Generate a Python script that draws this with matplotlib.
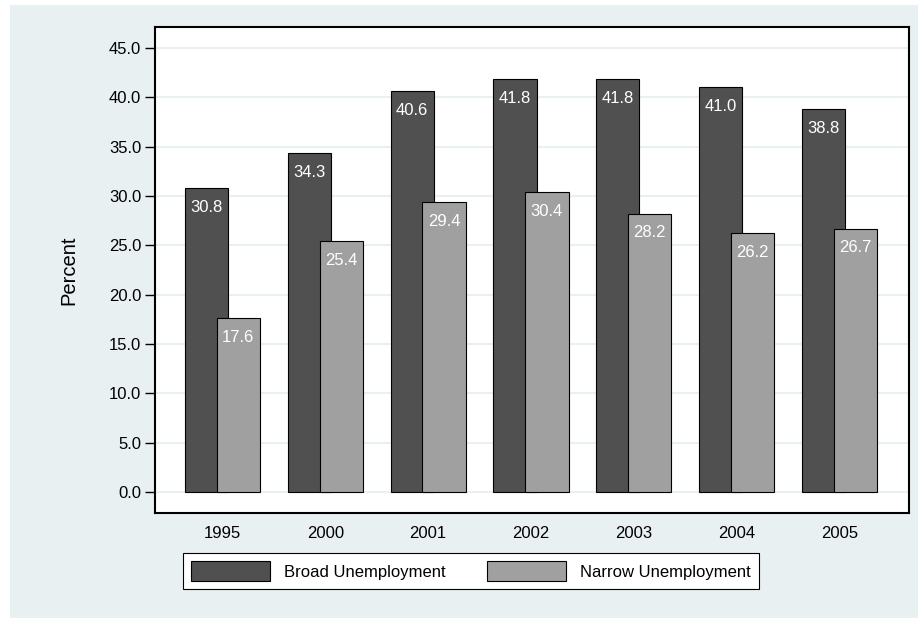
import numpy as np
import matplotlib.pyplot as plt
from matplotlib.patches import Rectangle

plt.rcParams['font.family'] = ['Liberation Sans', 'DejaVu Sans']

YEARS = ["1995", "2000", "2001", "2002", "2003", "2004", "2005"]
BROAD = [30.8, 34.3, 40.6, 41.8, 41.8, 41.0, 38.8]
NARROW = [17.6, 25.4, 29.4, 30.4, 28.2, 26.2, 26.7]
Y_TICKS = [0, 5, 10, 15, 20, 25, 30, 35, 40, 45]

BG = "#e8f0f2"
DARK = "#505050"
LIGHT = "#a0a0a0"

fig = plt.figure(figsize=(9.18, 6.18), dpi=100, facecolor="white")
fig.add_artist(Rectangle((10 / 918, 0), 1 - 10 / 918, 1 - 5 / 618,
                         transform=fig.transFigure, facecolor=BG, edgecolor="none", zorder=-10))

ax = fig.add_axes([0.1688, 0.1699, 0.9902 - 0.1688, 0.9563 - 0.1699])
ax.set_facecolor("white")

x = np.arange(len(YEARS))
w = 0.42
off = 0.155

b1 = ax.bar(x - off, BROAD, w, color=DARK, edgecolor="black", linewidth=0.8, zorder=2,
            label="Broad Unemployment")
b2 = ax.bar(x + off, NARROW, w, color=LIGHT, edgecolor="black", linewidth=0.8, zorder=3,
            label="Narrow Unemployment")

# value labels sit just inside the top of each bar
for xi, v in zip(x, BROAD):
    ax.text(xi - off, v - 1.95, f"{v:.1f}", ha="center", va="center", color="white", fontsize=12, zorder=4)
for xi, v in zip(x, NARROW):
    ax.text(xi + off, v - 1.95, f"{v:.1f}", ha="center", va="center", color="white", fontsize=12, zorder=4)

ax.set_xlim(-0.655, 6.675)
ax.set_ylim(-2.1, 47.1)
ax.set_yticks(Y_TICKS)
ax.set_yticklabels([f"{t:.1f}" for t in Y_TICKS])
ax.set_xticks(x)
ax.set_xticklabels(YEARS)
ax.tick_params(axis="x", length=0, pad=9, labelsize=12)
ax.tick_params(axis="y", length=7, width=1, pad=3, labelsize=12)
ax.yaxis.grid(True, color=BG, linewidth=1.5, zorder=0)
ax.set_axisbelow(True)
for s in ax.spines.values():
    s.set_linewidth(1.5)
    s.set_color("black")

ax.set_ylabel("Percent", fontsize=14.5, labelpad=22)

leg = fig.legend(handles=[b1, b2], loc="center", bbox_to_anchor=(471 / 918, 1 - 571 / 618),
                 ncol=2, fontsize=12, handlelength=4.75, handleheight=1.4,
                 handletextpad=0.84, columnspacing=2.46, borderpad=0.5,
                 frameon=True, fancybox=False, edgecolor="black", framealpha=1)
leg.get_frame().set_linewidth(0.8)

fig.savefig("out.png", dpi=100, facecolor="white")
